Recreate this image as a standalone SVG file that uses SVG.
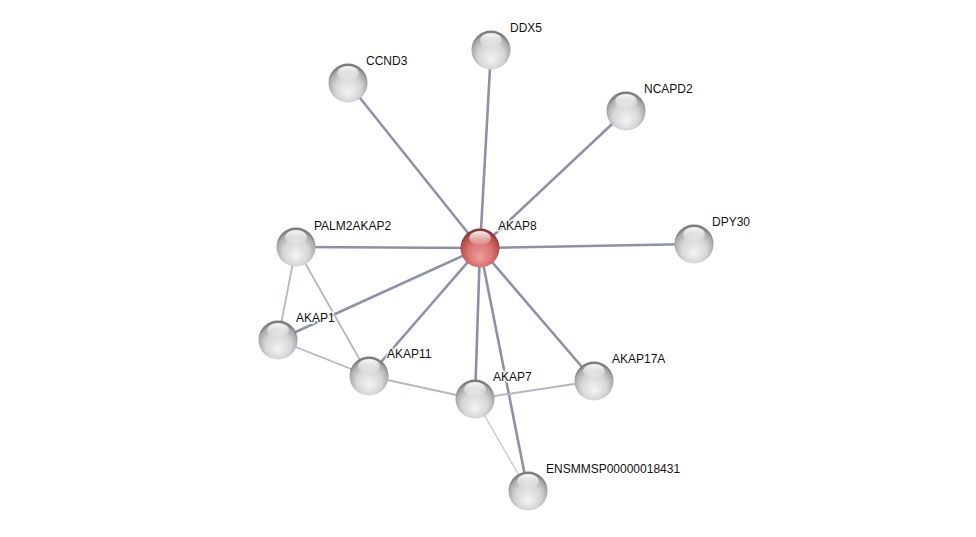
<svg xmlns="http://www.w3.org/2000/svg" width="976" height="537" viewBox="0 0 976 537">
<defs>
<radialGradient id="gball" cx="50%" cy="60%" r="55%" fx="50%" fy="75%">
<stop offset="0" stop-color="#f4f4f4"/>
<stop offset="0.6" stop-color="#d6d6d6"/>
<stop offset="0.9" stop-color="#a9a9a9"/>
<stop offset="1" stop-color="#7d7d7d"/>
</radialGradient>
<radialGradient id="rball" cx="50%" cy="60%" r="55%" fx="50%" fy="75%">
<stop offset="0" stop-color="#eea0a0"/>
<stop offset="0.6" stop-color="#d87070"/>
<stop offset="0.9" stop-color="#b44c4c"/>
<stop offset="1" stop-color="#8a3434"/>
</radialGradient>
<linearGradient id="hl" x1="0" y1="0" x2="0" y2="1">
<stop offset="0" stop-color="#fff" stop-opacity="0.95"/>
<stop offset="1" stop-color="#fff" stop-opacity="0.1"/>
</linearGradient>
<g id="ball">
<circle r="19.5" fill="url(#gball)"/>
<ellipse cx="0" cy="-10" rx="11" ry="7" fill="url(#hl)"/>
</g>
<g id="rb">
<circle r="19.5" fill="url(#rball)"/>
<ellipse cx="0" cy="-10" rx="11" ry="7" fill="url(#hl)"/>
</g>
</defs>
<style>
.e{stroke:#8d91a8;stroke-width:2.6;fill:none}
.m{stroke:#b3b6c6;stroke-width:1.8;fill:none}
.l{stroke:#c9cbd6;stroke-width:1.4;fill:none}
text{font-family:"Liberation Sans",Arial,sans-serif;font-size:12px;fill:#111;stroke:#fff;stroke-width:3;paint-order:stroke;stroke-opacity:0.8}
</style>
<rect width="976" height="537" fill="#fff"/>
<g id="edges">
<line class="e" x1="480" y1="248" x2="348" y2="83"/>
<line class="e" x1="480" y1="248" x2="491" y2="50"/>
<line class="e" x1="480" y1="248" x2="626" y2="111"/>
<line class="e" x1="480" y1="248" x2="694" y2="244"/>
<line class="e" x1="480" y1="248" x2="296" y2="247"/>
<line class="e" x1="480" y1="248" x2="278" y2="340"/>
<line class="e" x1="480" y1="248" x2="369" y2="376"/>
<line class="e" x1="480" y1="248" x2="475" y2="399"/>
<line class="e" x1="480" y1="248" x2="594" y2="381"/>
<line class="e" x1="480" y1="248" x2="528" y2="491"/>
<line class="m" x1="296" y1="247" x2="278" y2="340"/>
<line class="m" x1="296" y1="247" x2="369" y2="376"/>
<line class="m" x1="278" y1="340" x2="369" y2="376"/>
<line class="m" x1="369" y1="376" x2="475" y2="399"/>
<line class="m" x1="475" y1="399" x2="594" y2="381"/>
<line class="l" x1="475" y1="399" x2="528" y2="491"/>
</g>
<g id="AKAP8"><use href="#rb" x="480" y="248"/><text x="498" y="230">AKAP8</text></g>
<g id="DDX5"><use href="#ball" x="491" y="50"/><text x="510" y="32">DDX5</text></g>
<g id="CCND3"><use href="#ball" x="348" y="83"/><text x="366" y="65">CCND3</text></g>
<g id="NCAPD2"><use href="#ball" x="626" y="111"/><text x="644" y="93">NCAPD2</text></g>
<g id="DPY30"><use href="#ball" x="694" y="244"/><text x="712" y="226">DPY30</text></g>
<g id="PALM2AKAP2"><use href="#ball" x="296" y="247"/><text x="314" y="230">PALM2AKAP2</text></g>
<g id="AKAP1"><use href="#ball" x="278" y="340"/><text x="296" y="322">AKAP1</text></g>
<g id="AKAP11"><use href="#ball" x="369" y="376"/><text x="387" y="358">AKAP11</text></g>
<g id="AKAP7"><use href="#ball" x="475" y="399"/><text x="493" y="381">AKAP7</text></g>
<g id="AKAP17A"><use href="#ball" x="594" y="381"/><text x="612" y="363">AKAP17A</text></g>
<g id="ENSMMSP00000018431"><use href="#ball" x="528" y="491"/><text x="546" y="473">ENSMMSP00000018431</text></g>
</svg>
